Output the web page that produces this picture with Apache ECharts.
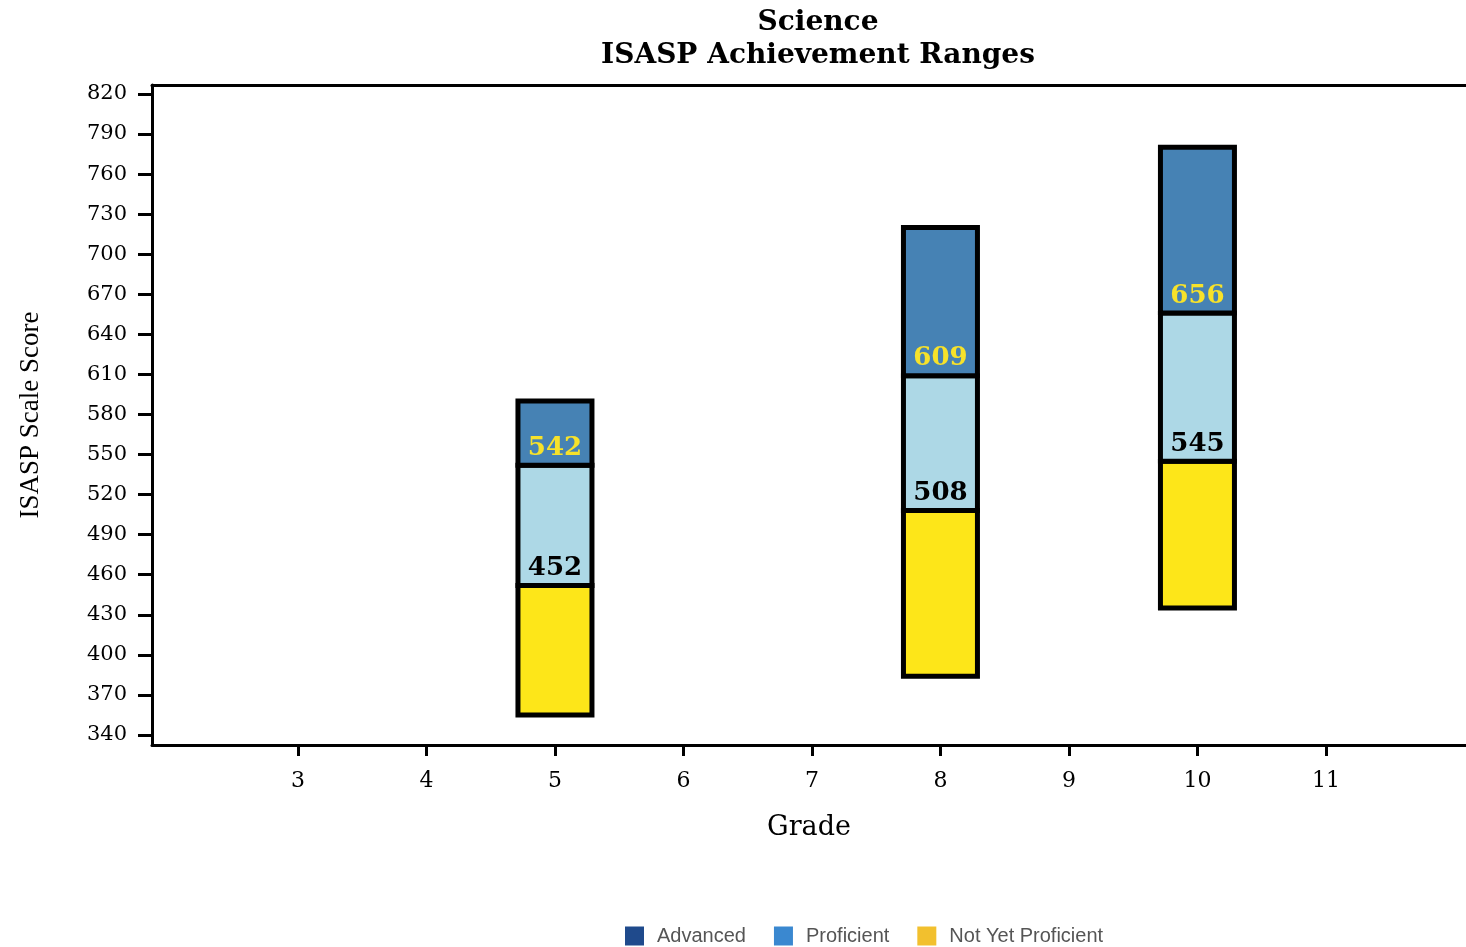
<!DOCTYPE html>
<html>
<head>
<meta charset="utf-8">
<script src="https://cdn.jsdelivr.net/npm/echarts@6/dist/echarts.min.js"></script>
<style>
    html, body { margin: 0; padding: 0; background: #fff; }
    #chart { width: 1466px; height: 947px; }
</style>
</head>
<body>
<div id="chart"></div>
<script>
// grades shown and their score ranges
var grades = [5, 8, 10];
var lowScores = [355, 384, 435];
var proficientCuts = [452, 508, 545];
var advancedCuts = [542, 609, 656];
var highScores = [590, 720, 780];

var gradeTicks = [3, 4, 5, 6, 7, 8, 9, 10, 11];
var scoreTicks = [340, 370, 400, 430, 460, 490, 520, 550, 580, 610, 640, 670, 700, 730, 760, 790, 820];

var serif = '"Liberation Serif", "DejaVu Serif", serif';
var wideSerif = '"DejaVu Serif", serif';

var chart = echarts.init(document.getElementById('chart'));

// one floating box per grade, from -> to, label (the lower cut) optional
const segment = function (name, color, fromArr, toArr, labelColor) {
    return {
        name: name,
        type: 'custom',
        encode: {x: 0, y: [1, 2]},
        data: grades.map((g, i) => [g, fromArr[i], toArr[i]]),
        itemStyle: {color: color},
        renderItem: function (params, api) {
            const g = api.value(0);
            const bottom = api.coord([g, api.value(1)]);
            const top = api.coord([g, api.value(2)]);
            const w = 74;
            const children = [{
                type: 'rect',
                shape: {x: bottom[0] - w / 2, y: top[1], width: w, height: bottom[1] - top[1]},
                style: {fill: color, stroke: '#000', lineWidth: 5}
            }];
            if (labelColor) {
                children.push({
                    type: 'text',
                    style: {
                        text: String(api.value(1)),
                        x: bottom[0], y: bottom[1] - 4,
                        align: 'center', verticalAlign: 'bottom',
                        fontFamily: wideSerif, fontWeight: 'bold', fontSize: 26,
                        fill: labelColor
                    }
                });
            }
            return {type: 'group', children: children};
        }
    };
};

var option = {
    animation: false,
    title: {
        text: 'Science\nISASP Achievement Ranges',
        left: 813,
        textAlign: 'center',
        top: 1,
        textStyle: {fontFamily: wideSerif, fontWeight: 'bold', fontSize: 28, lineHeight: 33, color: '#000'}
    },
    legend: {
        top: 926,
        left: 625,
        padding: 0,
        itemWidth: 19,
        itemHeight: 19,
        itemGap: 28,
        icon: 'rect',
        textStyle: {fontFamily: '"Liberation Sans", Arial, sans-serif', fontSize: 20, color: '#555', padding: [0, 0, 0, 8]},
        data: [
            {name: 'Advanced', itemStyle: {color: '#1f4a8c'}},
            {name: 'Proficient', itemStyle: {color: '#3a88d0'}},
            {name: 'Not Yet Proficient', itemStyle: {color: '#f2c02e'}}
        ]
    },
    grid: {left: 152, right: 0, top: 85, bottom: 202, containLabel: false},
    xAxis: [{
        type: 'value',
        min: 1.864,
        max: 12.09,
        name: 'Grade',
        nameLocation: 'middle',
        nameGap: 69,
        nameTextStyle: {fontFamily: wideSerif, fontSize: 27, color: '#000'},
        splitLine: {show: false},
        axisLine: {show: true, lineStyle: {color: '#000', width: 3}},
        axisTick: {show: true, customValues: gradeTicks, length: 11, lineStyle: {color: '#000', width: 3}},
        axisLabel: {customValues: gradeTicks, margin: 25, fontFamily: wideSerif, fontSize: 22, color: '#000'}
    }, {
        type: 'value',
        position: 'top',
        min: 1.864,
        max: 12.09,
        splitLine: {show: false},
        axisLine: {show: true, lineStyle: {color: '#000', width: 3}},
        axisTick: {show: false},
        axisLabel: {show: false}
    }],
    yAxis: {
        type: 'value',
        min: 332.5,
        max: 826.7,
        name: 'ISASP Scale Score',
        nameLocation: 'middle',
        nameGap: 108,
        nameTextStyle: {fontFamily: serif, fontSize: 27, color: '#000'},
        splitLine: {show: false},
        axisLine: {show: true, lineStyle: {color: '#000', width: 3}},
        axisTick: {show: true, customValues: scoreTicks, length: 14, lineStyle: {color: '#000', width: 3}},
        axisLabel: {customValues: scoreTicks, margin: 25, fontFamily: wideSerif, fontSize: 21, color: '#000'}
    },
    series: [
        segment('Not Yet Proficient', '#fde619', lowScores, proficientCuts, null),
        segment('Proficient', '#add8e6', proficientCuts, advancedCuts, '#000'),
        segment('Advanced', '#4682b4', advancedCuts, highScores, '#f7e22a')
    ]
};
chart.setOption(option);
</script>
</body>
</html>
